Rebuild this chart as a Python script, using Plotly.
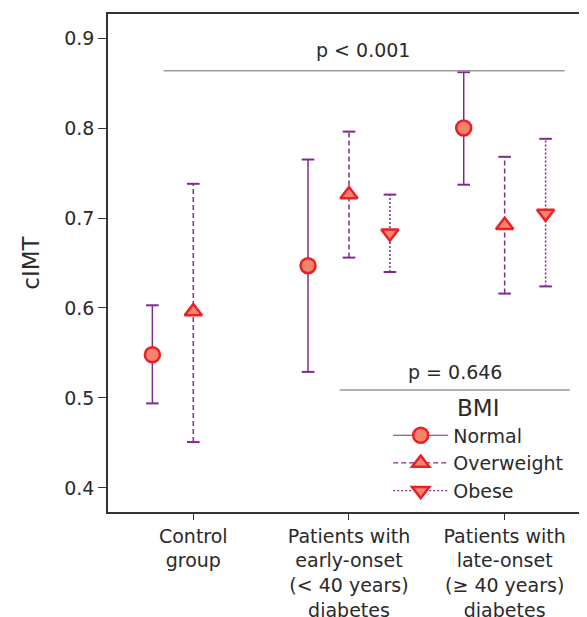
import plotly.graph_objects as go

categories = ["Control<br>group",
              "Patients with<br>early-onset<br>(&lt; 40 years)<br>diabetes",
              "Patients with<br>late-onset<br>(≥ 40 years)<br>diabetes"]
cat_pos = [1, 2, 3]

groups = ["Normal", "Overweight", "Obese"]
means = {
    "Normal":     [0.548, 0.647, 0.800],
    "Overweight": [0.596, 0.726, 0.692],
    "Obese":      [None, 0.683, 0.705],
}
lows = {
    "Normal":     [0.494, 0.529, 0.737],
    "Overweight": [0.451, 0.656, 0.616],
    "Obese":      [None, 0.640, 0.624],
}
highs = {
    "Normal":     [0.603, 0.765, 0.862],
    "Overweight": [0.738, 0.796, 0.768],
    "Obese":      [None, 0.726, 0.788],
}
y_ticks = [0.4, 0.5, 0.6, 0.7, 0.8, 0.9]
p_labels = ["p < 0.001", "p = 0.646"]

# styles
offsets = {"Normal": -0.263, "Overweight": 0.0, "Obese": 0.263}
symbols = {"Normal": "circle", "Overweight": "triangle-up", "Obese": "triangle-down"}
sizes = {"Normal": 15, "Overweight": 15, "Obese": 15}
dashes = {"Normal": "solid", "Overweight": "5px,3px", "Obese": "2px,2px"}
PURPLE = "#7E2A90"
FILL = "#F4846B"
EDGE = "#EC1F27"
FONT = "DejaVu Sans"
TXT = "#2A2A2A"
FS = 19

fig = go.Figure()

for g in groups:
    xs, ys, ex, ey = [], [], [], []
    for i, p in enumerate(cat_pos):
        if means[g][i] is None:
            continue
        x = p + offsets[g]
        xs.append(x); ys.append(means[g][i])
        ex += [x, x, None]
        ey += [lows[g][i], highs[g][i], None]
    fig.add_trace(go.Scatter(x=ex, y=ey, mode="lines", showlegend=False, hoverinfo="skip",
                             line=dict(color=PURPLE, width=1.5, dash=dashes[g])))
    cx = [v for v in ex if v is not None]
    cy = [v for v in ey if v is not None]
    fig.add_trace(go.Scatter(x=cx, y=cy, mode="markers", showlegend=False, hoverinfo="skip",
                             marker=dict(symbol="line-ew", size=9,
                                         line=dict(color=PURPLE, width=2))))
    fig.add_trace(go.Scatter(x=xs, y=ys, mode="markers", name=g, showlegend=False,
                             marker=dict(symbol=symbols[g], size=sizes[g], color=FILL,
                                         line=dict(color=EDGE, width=2.5))))
    fig.add_trace(go.Scatter(x=[None], y=[None], mode="lines+markers", name=g,
                             line=dict(color=PURPLE, width=1.2, dash=dashes[g]),
                             marker=dict(symbol=symbols[g], size=sizes[g], color=FILL,
                                         line=dict(color=EDGE, width=2.5))))

fig.add_shape(type="line", x0=0.81, x1=3.385, y0=0.8637, y1=0.8637, xref="x", yref="y",
              line=dict(color="#9A9A9A", width=1.5))
fig.add_shape(type="line", x0=1.94, x1=3.42, y0=0.509, y1=0.509, xref="x", yref="y",
              line=dict(color="#9A9A9A", width=1.5))
fig.add_annotation(x=2.09, y=0.8867, text=p_labels[0], showarrow=False,
                   font=dict(size=FS, color=TXT, family=FONT))
fig.add_annotation(x=2.68, y=0.529, text=p_labels[1], showarrow=False,
                   font=dict(size=FS, color=TXT, family=FONT))

# page body has an 8px margin, so the figure is drawn 8px in from the top-left
fig.update_layout(
    width=579, height=609,
    margin=dict(l=100, r=0, t=6, b=105),
    plot_bgcolor="white", paper_bgcolor="white",
    font=dict(family=FONT, size=FS, color=TXT),
    showlegend=True,
    legend=dict(title=dict(text="BMI", side="top center"), x=0.585, y=0.252,
                xanchor="left", yanchor="top", bgcolor="rgba(0,0,0,0)",
                font=dict(size=FS), itemwidth=55, tracegroupgap=0),
    xaxis=dict(range=[0.452, 3.529], tickvals=cat_pos, ticktext=categories, automargin=False,
               showline=True, linecolor="#333", linewidth=1.5, mirror=True,
               ticks="outside", ticklen=6, tickcolor="#333", showgrid=False, zeroline=False),
    yaxis=dict(range=[0.3733, 0.9267], tickvals=y_ticks, ticktext=[f"{v:.1f}" for v in y_ticks],
               title=dict(text="cIMT", standoff=18), automargin=False,
               showline=True, linecolor="#333", linewidth=1.5,
               ticks="outside", ticklen=8, tickcolor="#333", showgrid=False, zeroline=False),
)

fig.write_html("out.html")
